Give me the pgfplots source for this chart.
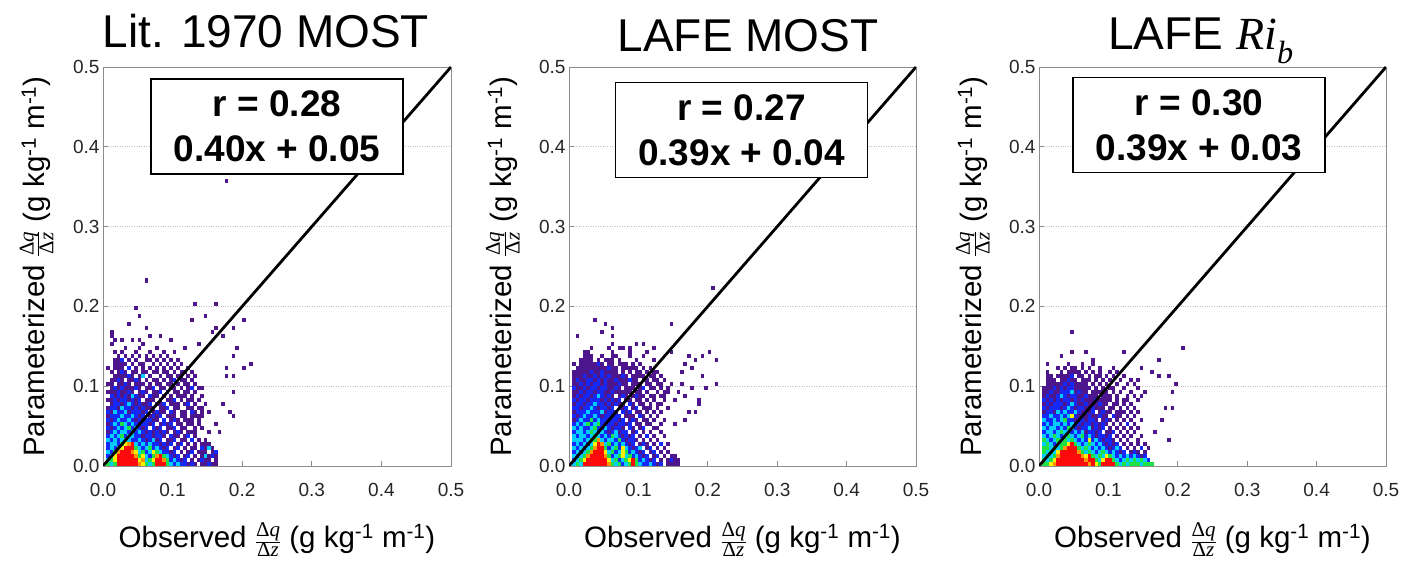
\documentclass[border=0pt]{standalone}
\usepackage{pgfplots}
\usepackage{pgfplotstable}
\pgfplotsset{compat=1.18}
\usepackage{fontspec}
\setmainfont{Liberation Sans}
\newfontfamily\serifit{Liberation Serif}
\newcommand\dqdz{$\frac{\mbox{\fontsize{21}{22}\selectfont\serifit Δ\textit{q}}}{\mbox{\fontsize{21}{22}\selectfont\serifit Δ\textit{z}}}$}
\definecolor{col0}{RGB}{78,22,140}
\definecolor{col1}{RGB}{20,40,250}
\definecolor{col2}{RGB}{0,205,255}
\definecolor{col3}{RGB}{30,225,70}
\definecolor{col4}{RGB}{250,240,0}
\definecolor{col5}{RGB}{255,150,0}
\definecolor{col6}{RGB}{250,10,10}
\pgfdeclareplotmark{cell}{\pgfpathrectangle{\pgfpoint{-1.8pt}{-2.05pt}}{\pgfpoint{3.6pt}{4.1pt}}\pgfusepath{fill}}
\tikzset{statbox/.style={draw=black, line width=1.4pt, fill=white, minimum width=252pt, minimum height=95pt, align=center, inner sep=0pt, font=\fontsize{37}{45}\selectfont\bfseries}}
\pgfplotsset{
  panel/.style={
    scale only axis, width=347pt, height=399pt, anchor=south west,
    xmin=-0.5, xmax=99.5, ymin=-0.5, ymax=99.5,
    clip marker paths=true,
    xtick={-0.5,19.5,39.5,59.5,79.5,99.5},
    ytick={-0.5,19.5,39.5,59.5,79.5,99.5},
    xticklabels={0.0,0.1,0.2,0.3,0.4,0.5},
    yticklabels={0.0,0.1,0.2,0.3,0.4,0.5},
    axis line style={black!45, line width=0.8pt},
    tick style={black!45, line width=0.8pt},
    tick align=inside, major tick length=5pt,
    xtick pos=bottom, ytick pos=left,
    ymajorgrids, grid style={dotted, black!25, line width=0.8pt},
    tick label style={font=\fontsize{19}{22}\selectfont, text=black!85},
    xticklabel style={anchor=base, yshift=-31pt},
    xlabel style={at={(axis description cs:0.5,-0.2055)}, anchor=base, font=\fontsize{29.5}{34}\selectfont},
    ylabel style={at={(axis description cs:-0.167,0.5)}, anchor=base, font=\fontsize{29.5}{34}\selectfont},
    xlabel={Observed \dqdz{} (g kg\textsuperscript{-1} m\textsuperscript{-1})},
    ylabel={Parameterized \dqdz{} (g kg\textsuperscript{-1} m\textsuperscript{-1})},
  },
  diag/.style={black, line width=2.8pt},
}
% 2-D histogram cells: x bin, y bin (bin width 0.005), colour class
% colour class: 0 purple, 1 blue, 2 cyan, 3 green, 4 yellow, 5 orange, 6 red
\pgfplotstableread[row sep=\\]{x y c\\
1 0 3\\ 2 0 2\\ 3 0 3\\ 4 0 6\\ 5 0 6\\ 6 0 6\\ 7 0 6\\ 8 0 6\\ 9 0 6\\ 10 0 5\\ 11 0 4\\ 12 0 3\\ 13 0 2\\ 14 0 3\\ 15 0 6\\ 16 0 6\\ 17 0 6\\ 18 0 3\\ 19 0 2\\ 20 0 1\\ 21 0 2\\ 22 0 1\\ 23 0 1\\ 24 0 0\\ 25 0 1\\ 26 0 0\\ 28 0 0\\ 29 0 0\\ 30 0 1\\ 31 0 0\\ 32 0 0\\
1 1 2\\ 2 1 3\\ 3 1 4\\ 4 1 6\\ 5 1 6\\ 6 1 6\\ 7 1 6\\ 8 1 6\\ 9 1 6\\ 10 1 4\\ 11 1 5\\ 12 1 2\\ 13 1 3\\ 14 1 4\\ 15 1 6\\ 16 1 6\\ 17 1 5\\ 18 1 3\\ 19 1 1\\ 20 1 2\\ 21 1 1\\ 22 1 0\\ 23 1 1\\ 25 1 0\\ 27 1 0\\ 28 1 1\\ 29 1 0\\ 30 1 0\\ 32 1 0\\
1 2 1\\ 2 2 2\\ 3 2 4\\ 4 2 6\\ 5 2 6\\ 6 2 6\\ 7 2 6\\ 8 2 6\\ 9 2 5\\ 10 2 3\\ 11 2 4\\ 12 2 2\\ 13 2 1\\ 14 2 3\\ 15 2 5\\ 16 2 6\\ 17 2 3\\ 18 2 2\\ 19 2 1\\ 20 2 0\\ 21 2 1\\ 23 2 0\\ 24 2 1\\ 26 2 0\\ 28 2 0\\ 29 2 2\\ 30 2 0\\ 31 2 1\\ 32 2 0\\
1 3 2\\ 2 3 1\\ 3 3 3\\ 4 3 5\\ 5 3 6\\ 6 3 6\\ 7 3 6\\ 8 3 5\\ 9 3 4\\ 10 3 2\\ 11 3 3\\ 12 3 1\\ 13 3 2\\ 14 3 4\\ 15 3 3\\ 16 3 2\\ 17 3 1\\ 18 3 1\\ 19 3 0\\ 20 3 1\\ 22 3 0\\ 24 3 0\\ 25 3 1\\ 27 3 0\\ 28 3 0\\ 29 3 0\\ 31 3 0\\ 32 3 1\\
1 4 1\\ 2 4 2\\ 3 4 1\\ 4 4 3\\ 5 4 4\\ 6 4 6\\ 7 4 6\\ 8 4 6\\ 9 4 3\\ 10 4 2\\ 11 4 1\\ 12 4 2\\ 13 4 3\\ 14 4 1\\ 15 4 2\\ 16 4 1\\ 17 4 0\\ 18 4 1\\ 20 4 0\\ 21 4 1\\ 23 4 0\\ 25 4 0\\ 26 4 0\\ 28 4 1\\ 29 4 0\\ 30 4 2\\ 31 4 0\\
1 5 1\\ 2 5 2\\ 3 5 2\\ 4 5 1\\ 5 5 3\\ 6 5 4\\ 7 5 5\\ 8 5 6\\ 9 5 2\\ 10 5 1\\ 11 5 2\\ 12 5 1\\ 13 5 2\\ 14 5 1\\ 15 5 1\\ 16 5 0\\ 17 5 1\\ 18 5 0\\ 19 5 1\\ 21 5 0\\ 22 5 1\\ 24 5 0\\ 26 5 0\\ 28 5 0\\ 29 5 0\\ 30 5 0\\
1 6 2\\ 2 6 1\\ 3 6 2\\ 4 6 1\\ 5 6 2\\ 6 6 3\\ 7 6 2\\ 8 6 1\\ 9 6 1\\ 10 6 2\\ 11 6 1\\ 12 6 0\\ 13 6 1\\ 14 6 2\\ 15 6 0\\ 16 6 1\\ 18 6 0\\ 19 6 0\\ 20 6 1\\ 22 6 0\\ 23 6 0\\ 25 6 1\\ 27 6 0\\ 29 6 0\\
1 7 1\\ 2 7 2\\ 3 7 1\\ 4 7 2\\ 5 7 3\\ 6 7 1\\ 7 7 2\\ 8 7 2\\ 9 7 1\\ 10 7 1\\ 11 7 0\\ 12 7 1\\ 13 7 1\\ 14 7 0\\ 15 7 1\\ 16 7 1\\ 17 7 0\\ 19 7 1\\ 20 7 0\\ 21 7 0\\ 23 7 0\\ 24 7 1\\ 26 7 0\\
1 8 0\\ 2 8 1\\ 3 8 2\\ 4 8 1\\ 5 8 2\\ 6 8 2\\ 7 8 1\\ 8 8 3\\ 9 8 1\\ 10 8 2\\ 11 8 1\\ 12 8 0\\ 13 8 1\\ 14 8 0\\ 15 8 1\\ 16 8 0\\ 17 8 1\\ 18 8 0\\ 20 8 0\\ 21 8 1\\ 22 8 0\\ 24 8 0\\ 25 8 0\\ 26 8 0\\ 30 8 0\\
1 9 1\\ 2 9 0\\ 3 9 1\\ 4 9 2\\ 5 9 1\\ 6 9 2\\ 7 9 3\\ 8 9 1\\ 9 9 2\\ 10 9 1\\ 11 9 0\\ 12 9 1\\ 14 9 1\\ 15 9 0\\ 16 9 1\\ 18 9 0\\ 19 9 0\\ 20 9 1\\ 22 9 0\\ 23 9 0\\ 26 9 0\\ 28 9 0\\
1 10 0\\ 2 10 1\\ 3 10 2\\ 4 10 1\\ 5 10 3\\ 6 10 2\\ 7 10 1\\ 8 10 2\\ 9 10 1\\ 10 10 0\\ 11 10 1\\ 12 10 1\\ 13 10 0\\ 14 10 1\\ 16 10 0\\ 17 10 1\\ 18 10 0\\ 19 10 1\\ 21 10 0\\ 22 10 0\\ 24 10 0\\ 25 10 0\\ 27 10 0\\
1 11 1\\ 2 11 0\\ 3 11 1\\ 4 11 2\\ 5 11 1\\ 6 11 1\\ 7 11 2\\ 8 11 1\\ 9 11 0\\ 10 11 1\\ 11 11 0\\ 12 11 1\\ 13 11 1\\ 14 11 0\\ 15 11 0\\ 17 11 1\\ 19 11 0\\ 20 11 1\\ 21 11 0\\ 23 11 0\\ 24 11 0\\ 25 11 0\\ 27 11 0\\
1 12 0\\ 2 12 1\\ 3 12 1\\ 4 12 1\\ 5 12 2\\ 6 12 1\\ 7 12 1\\ 8 12 2\\ 9 12 1\\ 10 12 0\\ 11 12 1\\ 13 12 0\\ 14 12 1\\ 15 12 0\\ 16 12 1\\ 18 12 0\\ 19 12 0\\ 20 12 0\\ 22 12 0\\ 23 12 0\\ 25 12 0\\ 26 12 0\\ 27 12 0\\ 28 12 0\\
1 13 1\\ 2 13 0\\ 3 13 2\\ 4 13 1\\ 5 13 1\\ 6 13 2\\ 7 13 0\\ 8 13 1\\ 9 13 1\\ 10 13 1\\ 11 13 0\\ 12 13 1\\ 14 13 0\\ 15 13 1\\ 16 13 0\\ 17 13 0\\ 19 13 1\\ 20 13 0\\ 22 13 0\\ 23 13 0\\ 25 13 1\\ 26 13 0\\ 28 13 0\\ 30 13 0\\
1 14 0\\ 2 14 1\\ 3 14 1\\ 4 14 0\\ 5 14 2\\ 6 14 1\\ 7 14 1\\ 8 14 0\\ 9 14 1\\ 10 14 0\\ 11 14 1\\ 12 14 0\\ 13 14 0\\ 14 14 1\\ 16 14 0\\ 17 14 0\\ 18 14 1\\ 20 14 0\\ 21 14 0\\ 24 14 0\\ 25 14 0\\ 27 14 0\\ 28 14 0\\
2 15 0\\ 3 15 1\\ 4 15 1\\ 5 15 0\\ 6 15 1\\ 7 15 2\\ 8 15 1\\ 9 15 0\\ 10 15 1\\ 11 15 0\\ 12 15 0\\ 13 15 1\\ 15 15 0\\ 16 15 0\\ 17 15 1\\ 19 15 0\\ 20 15 0\\ 21 15 0\\ 23 15 0\\ 24 15 1\\ 26 15 0\\ 29 15 0\\
1 16 0\\ 2 16 0\\ 3 16 1\\ 4 16 0\\ 5 16 1\\ 6 16 1\\ 7 16 0\\ 8 16 1\\ 9 16 0\\ 10 16 1\\ 12 16 0\\ 13 16 0\\ 14 16 0\\ 16 16 0\\ 18 16 0\\ 19 16 0\\ 20 16 1\\ 22 16 0\\ 24 16 0\\ 25 16 0\\ 27 16 0\\
2 17 1\\ 3 17 0\\ 4 17 1\\ 5 17 0\\ 6 17 1\\ 7 17 0\\ 8 17 2\\ 9 17 1\\ 10 17 0\\ 11 17 0\\ 13 17 1\\ 14 17 0\\ 15 17 0\\ 17 17 0\\ 19 17 0\\ 21 17 0\\ 22 17 0\\ 23 17 0\\ 25 17 0\\ 28 17 0\\
1 18 0\\ 2 18 0\\ 3 18 0\\ 4 18 1\\ 5 18 0\\ 6 18 0\\ 7 18 1\\ 8 18 0\\ 10 18 0\\ 11 18 1\\ 12 18 0\\ 14 18 0\\ 15 18 0\\ 16 18 1\\ 18 18 0\\ 20 18 0\\ 21 18 0\\ 23 18 0\\ 24 18 0\\ 26 18 0\\
2 19 0\\ 3 19 1\\ 4 19 0\\ 5 19 1\\ 6 19 0\\ 7 19 0\\ 8 19 0\\ 9 19 1\\ 10 19 0\\ 12 19 0\\ 13 19 0\\ 14 19 1\\ 16 19 0\\ 17 19 0\\ 19 19 0\\ 20 19 0\\ 22 19 0\\ 24 19 0\\ 25 19 1\\ 27 19 0\\ 28 19 0\\
1 20 0\\ 2 20 0\\ 4 20 0\\ 5 20 0\\ 6 20 1\\ 7 20 0\\ 9 20 0\\ 10 20 0\\ 11 20 0\\ 13 20 0\\ 15 20 0\\ 16 20 0\\ 18 20 0\\ 19 20 0\\ 21 20 0\\ 23 20 0\\ 24 20 0\\ 26 20 0\\
2 21 0\\ 3 21 0\\ 4 21 1\\ 5 21 0\\ 7 21 0\\ 8 21 0\\ 9 21 1\\ 10 21 0\\ 12 21 0\\ 14 21 0\\ 15 21 0\\ 17 21 0\\ 19 21 0\\ 20 21 1\\ 22 21 0\\ 23 21 0\\ 25 21 0\\
3 22 0\\ 4 22 0\\ 5 22 0\\ 6 22 0\\ 7 22 1\\ 8 22 0\\ 10 22 0\\ 11 22 2\\ 13 22 0\\ 16 22 0\\ 18 22 0\\ 19 22 0\\ 21 22 0\\ 22 22 0\\ 24 22 0\\ 26 22 0\\
2 23 0\\ 4 23 0\\ 5 23 1\\ 6 23 0\\ 8 23 0\\ 9 23 0\\ 11 23 0\\ 12 23 0\\ 14 23 0\\ 15 23 0\\ 17 23 0\\ 18 23 0\\ 20 23 0\\ 22 23 0\\ 23 23 0\\ 25 23 0\\
1 24 0\\ 3 24 0\\ 4 24 0\\ 5 24 0\\ 7 24 1\\ 9 24 0\\ 11 24 0\\ 13 24 0\\ 15 24 0\\ 17 24 0\\ 19 24 0\\ 21 24 0\\ 24 24 0\\
3 25 0\\ 4 25 0\\ 5 25 0\\ 6 25 0\\ 8 25 0\\ 10 25 0\\ 11 25 0\\ 14 25 0\\ 16 25 0\\ 18 25 0\\ 20 25 0\\ 22 25 0\\
3 26 0\\ 4 26 0\\ 5 26 1\\ 7 26 0\\ 9 26 0\\ 12 26 0\\ 13 26 0\\ 15 26 0\\ 17 26 0\\ 19 26 0\\ 21 26 0\\
4 27 0\\ 6 27 0\\ 8 27 0\\ 10 27 0\\ 12 27 0\\ 14 27 0\\ 16 27 0\\ 18 27 0\\
3 28 0\\ 5 28 0\\ 9 28 0\\ 13 28 0\\ 17 28 0\\ 20 28 0\\
6 29 0\\ 10 29 0\\ 15 29 0\\ 23 29 0\\
2 30 0\\ 11 30 0\\ 27 30 0\\
12 46 0\\ 9 39 0\\ 10 37 0\\ 26 40 0\\ 32 40 0\\ 25 36 0\\ 29 37 0\\ 7 35 0\\ 12 34 0\\ 40 36 0\\ 32 34 0\\ 31 33 0\\ 37 34 0\\ 34 32 0\\ 2 33 0\\ 2 32 0\\ 3 31 0\\ 5 31 0\\ 8 31 0\\ 10 31 0\\ 13 32 0\\ 16 32 0\\ 19 31 0\\ 38 29 0\\ 37 27 0\\ 42 25 0\\ 35 24 0\\ 40 24 0\\ 37 22 0\\ 35 22 0\\ 37 18 0\\ 34 15 0\\ 36 13 0\\ 37 12 0\\ 32 10 0\\ 33 8 0\\ 1 24 0\\ 35 71 0\\
}\tabA
\pgfplotstableread[row sep=\\]{x y c\\
1 0 2\\ 2 0 3\\ 3 0 2\\ 4 0 6\\ 5 0 6\\ 6 0 6\\ 7 0 6\\ 8 0 6\\ 9 0 6\\ 10 0 6\\ 11 0 5\\ 12 0 3\\ 13 0 2\\ 14 0 3\\ 15 0 1\\ 16 0 2\\ 17 0 3\\ 18 0 6\\ 19 0 3\\ 20 0 2\\ 21 0 1\\ 22 0 1\\ 23 0 2\\ 24 0 1\\ 25 0 0\\ 26 0 1\\ 28 0 0\\ 29 0 0\\ 30 0 0\\ 31 0 0\\
1 1 1\\ 2 1 2\\ 3 1 3\\ 4 1 4\\ 5 1 6\\ 6 1 6\\ 7 1 6\\ 8 1 6\\ 9 1 6\\ 10 1 6\\ 11 1 4\\ 12 1 2\\ 13 1 3\\ 14 1 1\\ 15 1 2\\ 16 1 3\\ 17 1 4\\ 18 1 6\\ 19 1 3\\ 20 1 1\\ 21 1 2\\ 22 1 1\\ 23 1 0\\ 24 1 1\\ 26 1 0\\ 28 1 0\\ 29 1 1\\ 30 1 0\\ 31 1 0\\
1 2 2\\ 2 2 1\\ 3 2 2\\ 4 2 3\\ 5 2 5\\ 6 2 6\\ 7 2 6\\ 8 2 6\\ 9 2 6\\ 10 2 5\\ 11 2 3\\ 12 2 1\\ 13 2 2\\ 14 2 3\\ 15 2 4\\ 16 2 2\\ 17 2 3\\ 18 2 1\\ 19 2 2\\ 20 2 1\\ 21 2 0\\ 22 2 1\\ 24 2 0\\ 25 2 1\\ 27 2 0\\ 29 2 0\\ 30 2 0\\
1 3 1\\ 2 3 2\\ 3 3 1\\ 4 3 2\\ 5 3 3\\ 6 3 5\\ 7 3 6\\ 8 3 6\\ 9 3 6\\ 10 3 4\\ 11 3 2\\ 12 3 3\\ 13 3 1\\ 14 3 2\\ 15 3 4\\ 16 3 3\\ 17 3 1\\ 18 3 2\\ 19 3 1\\ 20 3 0\\ 21 3 1\\ 23 3 0\\ 24 3 1\\ 26 3 0\\ 28 3 0\\
1 4 2\\ 2 4 1\\ 3 4 2\\ 4 4 1\\ 5 4 2\\ 6 4 3\\ 7 4 5\\ 8 4 6\\ 9 4 6\\ 10 4 3\\ 11 4 1\\ 12 4 2\\ 13 4 3\\ 14 4 1\\ 15 4 4\\ 16 4 2\\ 17 4 1\\ 18 4 0\\ 19 4 1\\ 20 4 2\\ 22 4 0\\ 23 4 1\\ 25 4 0\\ 27 4 0\\
1 5 1\\ 2 5 2\\ 3 5 1\\ 4 5 2\\ 5 5 1\\ 6 5 2\\ 7 5 4\\ 8 5 6\\ 9 5 5\\ 10 5 2\\ 11 5 3\\ 12 5 1\\ 13 5 2\\ 14 5 1\\ 15 5 2\\ 16 5 1\\ 17 5 0\\ 18 5 1\\ 20 5 0\\ 21 5 1\\ 22 5 0\\ 24 5 0\\ 26 5 1\\ 28 5 0\\
1 6 2\\ 2 6 2\\ 3 6 2\\ 4 6 1\\ 5 6 2\\ 6 6 3\\ 7 6 3\\ 8 6 5\\ 9 6 2\\ 10 6 1\\ 11 6 2\\ 12 6 2\\ 13 6 1\\ 14 6 3\\ 15 6 1\\ 16 6 0\\ 17 6 1\\ 18 6 1\\ 19 6 0\\ 21 6 0\\ 23 6 0\\ 25 6 0\\
1 7 2\\ 2 7 1\\ 3 7 2\\ 4 7 2\\ 5 7 1\\ 6 7 2\\ 7 7 3\\ 8 7 2\\ 9 7 1\\ 10 7 2\\ 11 7 1\\ 12 7 3\\ 13 7 2\\ 14 7 1\\ 15 7 0\\ 16 7 1\\ 17 7 0\\ 18 7 1\\ 20 7 0\\ 22 7 1\\ 24 7 0\\ 27 7 0\\
1 8 1\\ 2 8 2\\ 3 8 2\\ 4 8 1\\ 5 8 2\\ 6 8 3\\ 7 8 2\\ 8 8 1\\ 9 8 2\\ 10 8 1\\ 11 8 0\\ 12 8 1\\ 13 8 2\\ 14 8 0\\ 15 8 1\\ 16 8 1\\ 18 8 0\\ 19 8 1\\ 21 8 0\\ 23 8 0\\ 26 8 0\\
1 9 2\\ 2 9 1\\ 3 9 2\\ 4 9 1\\ 5 9 1\\ 6 9 2\\ 7 9 3\\ 8 9 1\\ 9 9 1\\ 10 9 2\\ 11 9 1\\ 12 9 0\\ 13 9 1\\ 14 9 1\\ 15 9 0\\ 17 9 1\\ 18 9 0\\ 20 9 0\\ 21 9 1\\ 24 9 0\\ 25 9 0\\
1 10 1\\ 2 10 2\\ 3 10 1\\ 4 10 2\\ 5 10 3\\ 6 10 1\\ 7 10 2\\ 8 10 3\\ 9 10 1\\ 10 10 0\\ 11 10 1\\ 12 10 1\\ 13 10 0\\ 14 10 1\\ 15 10 1\\ 16 10 0\\ 17 10 1\\ 19 10 0\\ 20 10 0\\ 22 10 0\\ 23 10 0\\ 26 10 0\\
1 11 0\\ 2 11 1\\ 3 11 2\\ 4 11 1\\ 5 11 1\\ 6 11 3\\ 7 11 1\\ 8 11 2\\ 9 11 1\\ 10 11 1\\ 11 11 0\\ 12 11 1\\ 13 11 1\\ 14 11 0\\ 15 11 1\\ 17 11 0\\ 18 11 1\\ 19 11 0\\ 21 11 0\\ 22 11 0\\ 24 11 0\\ 27 11 0\\
1 12 1\\ 2 12 0\\ 3 12 1\\ 4 12 2\\ 5 12 1\\ 6 12 1\\ 7 12 2\\ 8 12 1\\ 9 12 0\\ 10 12 1\\ 11 12 1\\ 12 12 0\\ 13 12 1\\ 14 12 1\\ 16 12 0\\ 17 12 0\\ 18 12 0\\ 20 12 1\\ 21 12 0\\ 23 12 0\\ 25 12 0\\
1 13 0\\ 2 13 1\\ 3 13 1\\ 4 13 1\\ 5 13 2\\ 6 13 1\\ 7 13 1\\ 8 13 1\\ 9 13 2\\ 10 13 0\\ 11 13 1\\ 12 13 1\\ 13 13 0\\ 15 13 1\\ 16 13 0\\ 17 13 1\\ 19 13 0\\ 20 13 0\\ 22 13 0\\ 24 13 0\\ 26 13 0\\
1 14 1\\ 2 14 1\\ 3 14 0\\ 4 14 1\\ 5 14 1\\ 6 14 2\\ 7 14 1\\ 8 14 0\\ 9 14 1\\ 10 14 1\\ 11 14 0\\ 12 14 1\\ 14 14 0\\ 15 14 0\\ 16 14 1\\ 18 14 0\\ 19 14 1\\ 21 14 0\\ 22 14 0\\ 23 14 0\\ 25 14 0\\ 28 14 0\\
1 15 0\\ 2 15 1\\ 3 15 1\\ 4 15 0\\ 5 15 1\\ 6 15 1\\ 7 15 2\\ 8 15 1\\ 9 15 1\\ 10 15 0\\ 11 15 1\\ 12 15 0\\ 13 15 1\\ 14 15 0\\ 15 15 0\\ 17 15 1\\ 18 15 0\\ 20 15 0\\ 21 15 0\\ 23 15 0\\ 25 15 0\\ 26 15 0\\
1 16 1\\ 2 16 0\\ 3 16 1\\ 4 16 1\\ 5 16 0\\ 6 16 1\\ 7 16 1\\ 8 16 1\\ 9 16 0\\ 10 16 1\\ 11 16 0\\ 12 16 1\\ 13 16 0\\ 14 16 1\\ 16 16 0\\ 17 16 0\\ 19 16 0\\ 20 16 0\\ 22 16 0\\ 24 16 0\\ 27 16 0\\
1 17 0\\ 2 17 1\\ 3 17 0\\ 4 17 1\\ 5 17 1\\ 6 17 0\\ 7 17 1\\ 8 17 2\\ 9 17 1\\ 10 17 0\\ 11 17 1\\ 12 17 0\\ 14 17 0\\ 15 17 1\\ 16 17 0\\ 18 17 0\\ 19 17 1\\ 20 17 0\\ 21 17 0\\ 23 17 0\\ 24 17 0\\ 26 17 0\\ 27 17 0\\
1 18 0\\ 2 18 0\\ 3 18 1\\ 4 18 0\\ 5 18 1\\ 6 18 1\\ 7 18 0\\ 8 18 1\\ 9 18 1\\ 10 18 0\\ 11 18 0\\ 12 18 1\\ 13 18 0\\ 14 18 0\\ 15 18 0\\ 16 18 0\\ 17 18 0\\ 19 18 0\\ 20 18 0\\ 22 18 0\\ 25 18 0\\ 27 18 0\\ 28 18 0\\
1 19 1\\ 2 19 0\\ 3 19 0\\ 4 19 1\\ 5 19 0\\ 6 19 1\\ 7 19 1\\ 8 19 0\\ 9 19 1\\ 10 19 1\\ 11 19 0\\ 12 19 0\\ 13 19 1\\ 14 19 0\\ 16 19 0\\ 17 19 0\\ 18 19 0\\ 20 19 0\\ 21 19 1\\ 23 19 0\\ 24 19 0\\ 26 19 0\\ 28 19 0\\
1 20 0\\ 2 20 0\\ 3 20 1\\ 4 20 0\\ 5 20 1\\ 6 20 0\\ 7 20 1\\ 8 20 1\\ 9 20 0\\ 10 20 1\\ 11 20 0\\ 12 20 0\\ 13 20 0\\ 14 20 1\\ 15 20 0\\ 16 20 0\\ 18 20 0\\ 19 20 0\\ 20 20 0\\ 22 20 0\\ 23 20 0\\ 25 20 0\\ 26 20 0\\
1 21 0\\ 2 21 1\\ 3 21 0\\ 4 21 0\\ 5 21 1\\ 6 21 1\\ 7 21 0\\ 8 21 1\\ 9 21 0\\ 10 21 1\\ 11 21 0\\ 12 21 0\\ 13 21 1\\ 14 21 0\\ 15 21 0\\ 16 21 0\\ 17 21 1\\ 18 21 0\\ 19 21 0\\ 21 21 0\\ 22 21 0\\ 24 21 0\\ 25 21 0\\ 27 21 0\\
1 22 0\\ 2 22 0\\ 3 22 0\\ 4 22 1\\ 5 22 0\\ 6 22 0\\ 7 22 1\\ 8 22 0\\ 9 22 1\\ 10 22 0\\ 11 22 1\\ 12 22 0\\ 13 22 0\\ 14 22 0\\ 15 22 1\\ 16 22 0\\ 18 22 0\\ 19 22 0\\ 20 22 0\\ 21 22 0\\ 23 22 0\\ 24 22 0\\ 26 22 0\\
1 23 0\\ 2 23 0\\ 3 23 0\\ 4 23 0\\ 5 23 0\\ 6 23 1\\ 7 23 0\\ 8 23 0\\ 9 23 1\\ 10 23 0\\ 11 23 0\\ 12 23 0\\ 13 23 0\\ 15 23 0\\ 17 23 0\\ 19 23 0\\ 20 23 0\\ 22 23 0\\ 24 23 0\\ 25 23 0\\
2 24 0\\ 3 24 0\\ 4 24 0\\ 5 24 0\\ 6 24 0\\ 7 24 0\\ 8 24 0\\ 9 24 0\\ 10 24 0\\ 11 24 1\\ 12 24 0\\ 13 24 0\\ 15 24 0\\ 16 24 0\\ 17 24 0\\ 18 24 0\\ 19 24 0\\ 21 24 0\\ 23 24 0\\
1 25 0\\ 3 25 0\\ 4 25 0\\ 5 25 0\\ 6 25 0\\ 7 25 0\\ 8 25 1\\ 9 25 0\\ 11 25 0\\ 12 25 0\\ 14 25 0\\ 15 25 0\\ 16 25 0\\ 18 25 0\\ 20 25 0\\
3 26 0\\ 4 26 0\\ 5 26 0\\ 6 26 0\\ 8 26 0\\ 10 26 0\\ 11 26 0\\ 12 26 0\\ 14 26 0\\ 19 26 0\\ 24 26 0\\
4 27 0\\ 5 27 0\\ 6 27 0\\ 9 27 0\\ 12 27 0\\ 13 27 0\\ 17 27 0\\ 21 27 0\\
4 28 0\\ 5 28 0\\ 12 28 0\\ 17 28 0\\ 22 28 0\\
6 29 0\\ 11 29 0\\ 15 29 0\\
41 44 0\\ 7 36 0\\ 10 35 0\\ 9 33 0\\ 12 34 0\\ 12 32 0\\ 2 32 0\\ 29 35 0\\ 12 30 0\\ 14 29 0\\ 17 29 0\\ 19 30 0\\ 21 30 0\\ 24 29 0\\ 29 28 0\\ 40 28 0\\ 42 26 0\\ 38 27 0\\ 34 27 0\\ 36 26 0\\ 33 25 0\\ 35 24 0\\ 38 22 0\\ 32 23 0\\ 29 20 0\\ 32 20 0\\ 35 19 0\\ 39 19 0\\ 37 16 0\\ 37 15 0\\ 34 13 0\\ 36 13 0\\ 33 11 0\\ 30 10 0\\ 31 18 0\\ 30 16 0\\ 33 17 0\\ 42 20 0\\
}\tabB
\pgfplotstableread[row sep=\\]{x y c\\
1 0 3\\ 2 0 3\\ 3 0 4\\ 4 0 5\\ 5 0 6\\ 6 0 6\\ 7 0 6\\ 8 0 6\\ 9 0 6\\ 10 0 6\\ 11 0 6\\ 12 0 6\\ 13 0 6\\ 14 0 5\\ 15 0 6\\ 16 0 4\\ 17 0 3\\ 18 0 6\\ 19 0 6\\ 20 0 6\\ 21 0 6\\ 22 0 3\\ 23 0 2\\ 24 0 3\\ 25 0 2\\ 26 0 3\\ 27 0 3\\ 28 0 3\\ 29 0 2\\ 30 0 3\\ 31 0 3\\ 32 0 3\\
1 1 3\\ 2 1 2\\ 3 1 3\\ 4 1 4\\ 5 1 6\\ 6 1 6\\ 7 1 6\\ 8 1 6\\ 9 1 6\\ 10 1 6\\ 11 1 6\\ 12 1 6\\ 13 1 5\\ 14 1 6\\ 15 1 6\\ 16 1 3\\ 17 1 2\\ 18 1 4\\ 19 1 6\\ 20 1 6\\ 21 1 3\\ 22 1 2\\ 23 1 1\\ 24 1 2\\ 25 1 3\\ 26 1 2\\ 27 1 3\\ 28 1 2\\ 29 1 3\\ 30 1 2\\ 31 1 1\\
1 2 2\\ 2 2 3\\ 3 2 2\\ 4 2 3\\ 5 2 5\\ 6 2 6\\ 7 2 6\\ 8 2 6\\ 9 2 6\\ 10 2 6\\ 11 2 6\\ 12 2 5\\ 13 2 4\\ 14 2 6\\ 15 2 3\\ 16 2 2\\ 17 2 3\\ 18 2 2\\ 19 2 4\\ 20 2 3\\ 21 2 2\\ 22 2 1\\ 23 2 2\\ 24 2 1\\ 25 2 2\\ 26 2 1\\ 27 2 2\\ 28 2 1\\ 29 2 0\\ 30 2 1\\
1 3 3\\ 2 3 2\\ 3 3 3\\ 4 3 2\\ 5 3 4\\ 6 3 6\\ 7 3 6\\ 8 3 6\\ 9 3 6\\ 10 3 6\\ 11 3 5\\ 12 3 3\\ 13 3 2\\ 14 3 3\\ 15 3 2\\ 16 3 1\\ 17 3 2\\ 18 3 3\\ 19 3 2\\ 20 3 1\\ 21 3 2\\ 22 3 1\\ 23 3 0\\ 24 3 1\\ 26 3 0\\ 27 3 1\\ 28 3 0\\ 30 3 0\\
1 4 3\\ 2 4 3\\ 3 4 2\\ 4 4 3\\ 5 4 2\\ 6 4 3\\ 7 4 5\\ 8 4 6\\ 9 4 6\\ 10 4 6\\ 11 4 3\\ 12 4 2\\ 13 4 3\\ 14 4 2\\ 15 4 1\\ 16 4 2\\ 17 4 1\\ 18 4 2\\ 19 4 1\\ 20 4 0\\ 21 4 1\\ 22 4 2\\ 23 4 1\\ 25 4 0\\ 27 4 0\\ 29 4 1\\ 31 4 0\\
1 5 2\\ 2 5 3\\ 3 5 2\\ 4 5 1\\ 5 5 2\\ 6 5 3\\ 7 5 3\\ 8 5 4\\ 9 5 6\\ 10 5 3\\ 11 5 2\\ 12 5 1\\ 13 5 2\\ 14 5 3\\ 15 5 2\\ 16 5 1\\ 17 5 2\\ 18 5 1\\ 19 5 0\\ 20 5 1\\ 21 5 0\\ 22 5 1\\ 24 5 0\\ 26 5 0\\ 28 5 0\\ 30 5 0\\
1 6 3\\ 2 6 2\\ 3 6 1\\ 4 6 2\\ 5 6 3\\ 6 6 2\\ 7 6 3\\ 8 6 2\\ 9 6 3\\ 10 6 2\\ 11 6 1\\ 12 6 2\\ 13 6 1\\ 14 6 4\\ 15 6 1\\ 16 6 2\\ 17 6 1\\ 18 6 0\\ 19 6 1\\ 20 6 1\\ 21 6 0\\ 23 6 0\\ 25 6 0\\ 28 6 0\\ 37 6 0\\
1 7 2\\ 2 7 1\\ 3 7 2\\ 4 7 3\\ 5 7 2\\ 6 7 1\\ 7 7 2\\ 8 7 3\\ 9 7 2\\ 10 7 1\\ 11 7 2\\ 12 7 3\\ 13 7 1\\ 14 7 2\\ 15 7 1\\ 16 7 0\\ 17 7 1\\ 18 7 1\\ 19 7 0\\ 20 7 1\\ 22 7 0\\ 24 7 0\\ 26 7 0\\ 29 7 0\\
1 8 1\\ 2 8 2\\ 3 8 2\\ 4 8 1\\ 5 8 2\\ 6 8 3\\ 7 8 2\\ 8 8 2\\ 9 8 1\\ 10 8 2\\ 11 8 1\\ 12 8 2\\ 13 8 0\\ 14 8 1\\ 15 8 1\\ 16 8 0\\ 17 8 1\\ 19 8 0\\ 20 8 0\\ 21 8 1\\ 23 8 0\\ 25 8 0\\ 27 8 0\\ 33 8 0\\
1 9 2\\ 2 9 1\\ 3 9 2\\ 4 9 2\\ 5 9 1\\ 6 9 2\\ 7 9 1\\ 8 9 3\\ 9 9 2\\ 10 9 1\\ 11 9 0\\ 12 9 1\\ 13 9 1\\ 14 9 2\\ 15 9 0\\ 16 9 1\\ 17 9 0\\ 18 9 1\\ 20 9 0\\ 22 9 0\\ 24 9 0\\ 26 9 0\\ 28 9 0\\
1 10 1\\ 2 10 2\\ 3 10 1\\ 4 10 2\\ 5 10 2\\ 6 10 1\\ 7 10 2\\ 8 10 1\\ 9 10 2\\ 10 10 1\\ 11 10 1\\ 12 10 0\\ 13 10 1\\ 14 10 1\\ 15 10 0\\ 16 10 1\\ 17 10 0\\ 18 10 1\\ 19 10 0\\ 21 10 0\\ 23 10 0\\ 25 10 1\\ 27 10 0\\
1 11 2\\ 2 11 1\\ 3 11 1\\ 4 11 2\\ 5 11 1\\ 6 11 2\\ 7 11 3\\ 8 11 1\\ 9 11 1\\ 10 11 0\\ 11 11 1\\ 12 11 1\\ 13 11 0\\ 14 11 1\\ 15 11 1\\ 16 11 0\\ 18 11 0\\ 19 11 1\\ 20 11 0\\ 22 11 0\\ 24 11 0\\ 26 11 0\\ 29 11 0\\ 35 11 0\\
1 12 1\\ 2 12 1\\ 3 12 2\\ 4 12 1\\ 5 12 1\\ 6 12 2\\ 7 12 1\\ 8 12 2\\ 9 12 4\\ 10 12 1\\ 11 12 0\\ 12 12 1\\ 13 12 0\\ 14 12 1\\ 15 12 0\\ 16 12 0\\ 17 12 1\\ 18 12 0\\ 19 12 0\\ 21 12 1\\ 22 12 0\\ 23 12 0\\ 25 12 0\\ 27 12 0\\
1 13 0\\ 2 13 1\\ 3 13 1\\ 4 13 0\\ 5 13 2\\ 6 13 1\\ 7 13 2\\ 8 13 1\\ 9 13 1\\ 10 13 2\\ 11 13 1\\ 12 13 0\\ 13 13 1\\ 14 13 0\\ 15 13 1\\ 17 13 0\\ 18 13 1\\ 19 13 0\\ 20 13 0\\ 22 13 0\\ 23 13 0\\ 24 13 0\\ 26 13 0\\ 28 13 0\\
1 14 1\\ 2 14 0\\ 3 14 1\\ 4 14 1\\ 5 14 1\\ 6 14 0\\ 7 14 1\\ 8 14 2\\ 9 14 1\\ 10 14 0\\ 11 14 1\\ 12 14 1\\ 13 14 0\\ 14 14 0\\ 15 14 1\\ 16 14 0\\ 17 14 0\\ 18 14 0\\ 20 14 0\\ 21 14 0\\ 23 14 0\\ 25 14 0\\ 27 14 0\\ 36 14 0\\ 38 14 0\\
1 15 0\\ 2 15 1\\ 3 15 0\\ 4 15 1\\ 5 15 1\\ 6 15 1\\ 7 15 0\\ 8 15 1\\ 9 15 2\\ 10 15 1\\ 11 15 0\\ 12 15 0\\ 13 15 1\\ 14 15 0\\ 15 15 0\\ 16 15 0\\ 17 15 1\\ 18 15 0\\ 19 15 0\\ 21 15 0\\ 22 15 0\\ 24 15 0\\ 26 15 0\\
1 16 1\\ 2 16 0\\ 3 16 1\\ 4 16 0\\ 5 16 1\\ 6 16 0\\ 7 16 1\\ 8 16 1\\ 9 16 0\\ 10 16 1\\ 11 16 0\\ 12 16 1\\ 13 16 0\\ 14 16 0\\ 15 16 0\\ 16 16 1\\ 17 16 0\\ 18 16 0\\ 19 16 0\\ 20 16 0\\ 22 16 0\\ 24 16 0\\ 25 16 0\\ 28 16 0\\
1 17 0\\ 2 17 1\\ 3 17 0\\ 4 17 0\\ 5 17 1\\ 6 17 2\\ 7 17 1\\ 8 17 0\\ 9 17 1\\ 10 17 1\\ 11 17 0\\ 12 17 0\\ 13 17 1\\ 14 17 0\\ 15 17 0\\ 16 17 0\\ 18 17 0\\ 19 17 0\\ 20 17 0\\ 22 17 0\\ 25 17 0\\ 27 17 0\\ 29 17 0\\
1 18 0\\ 2 18 0\\ 3 18 1\\ 4 18 0\\ 5 18 0\\ 6 18 1\\ 7 18 1\\ 8 18 1\\ 9 18 2\\ 10 18 0\\ 11 18 1\\ 12 18 0\\ 13 18 0\\ 15 18 0\\ 16 18 0\\ 17 18 0\\ 18 18 0\\ 19 18 0\\ 21 18 0\\ 23 18 0\\ 26 18 0\\ 30 18 0\\ 38 18 0\\
1 19 0\\ 2 19 0\\ 3 19 0\\ 4 19 1\\ 5 19 0\\ 6 19 1\\ 7 19 0\\ 8 19 1\\ 9 19 1\\ 10 19 0\\ 11 19 0\\ 12 19 0\\ 13 19 0\\ 14 19 0\\ 16 19 0\\ 18 19 0\\ 20 19 0\\ 21 19 0\\ 24 19 0\\ 28 19 0\\
2 20 0\\ 3 20 0\\ 4 20 0\\ 5 20 0\\ 6 20 0\\ 7 20 1\\ 8 20 0\\ 9 20 1\\ 10 20 0\\ 11 20 0\\ 12 20 0\\ 13 20 0\\ 15 20 0\\ 17 20 0\\ 19 20 0\\ 22 20 0\\ 25 20 0\\ 27 20 0\\ 39 20 0\\
2 21 0\\ 3 21 0\\ 4 21 0\\ 6 21 0\\ 7 21 0\\ 8 21 1\\ 9 21 0\\ 10 21 0\\ 12 21 0\\ 13 21 0\\ 14 21 0\\ 16 21 0\\ 18 21 0\\ 20 21 0\\ 23 21 0\\ 26 21 0\\ 28 21 0\\
2 22 0\\ 3 22 0\\ 5 22 0\\ 6 22 0\\ 7 22 0\\ 8 22 0\\ 9 22 1\\ 11 22 0\\ 12 22 0\\ 14 22 0\\ 16 22 0\\ 17 22 0\\ 19 22 0\\ 21 22 0\\ 24 22 0\\ 34 22 0\\ 37 22 0\\
2 23 0\\ 6 23 0\\ 8 23 0\\ 9 23 0\\ 10 23 0\\ 11 23 0\\ 13 23 0\\ 15 23 0\\ 17 23 0\\ 20 23 0\\ 22 23 0\\ 32 23 0\\
5 24 0\\ 7 24 0\\ 9 24 0\\ 10 24 0\\ 12 24 0\\ 14 24 0\\ 17 24 0\\ 21 24 0\\ 29 24 0\\
2 25 0\\ 8 25 0\\ 12 25 0\\ 15 25 0\\
15 26 0\\ 34 26 0\\
9 33 0\\ 6 27 0\\ 9 28 0\\ 13 28 0\\ 24 28 0\\ 41 29 0\\
}\tabC
\newcommand\cellplots[1]{%
  \addplot[only marks, mark=cell, col0, restrict expr to domain={\thisrow{c}}{-0.5:0.5}] table[x=x, y=y] {#1};
  \addplot[only marks, mark=cell, col1, restrict expr to domain={\thisrow{c}}{0.5:1.5}] table[x=x, y=y] {#1};
  \addplot[only marks, mark=cell, col2, restrict expr to domain={\thisrow{c}}{1.5:2.5}] table[x=x, y=y] {#1};
  \addplot[only marks, mark=cell, col3, restrict expr to domain={\thisrow{c}}{2.5:3.5}] table[x=x, y=y] {#1};
  \addplot[only marks, mark=cell, col4, restrict expr to domain={\thisrow{c}}{3.5:4.5}] table[x=x, y=y] {#1};
  \addplot[only marks, mark=cell, col5, restrict expr to domain={\thisrow{c}}{4.5:5.5}] table[x=x, y=y] {#1};
  \addplot[only marks, mark=cell, col6, restrict expr to domain={\thisrow{c}}{5.5:6.5}] table[x=x, y=y] {#1};
}
\begin{document}
\begin{tikzpicture}
\useasboundingbox (0,0) rectangle (1404pt,561pt);
% ---------------- Panel 1 ----------------
\begin{axis}[panel, at={(103pt,95pt)}, width=348pt,
  title={Lit. 1970 MOST},
  title style={at={(axis description cs:0.468,1.033)}, anchor=base, font=\fontsize{46}{55}\selectfont}]
\cellplots{\tabA}
\addplot[diag] coordinates {(-0.5,-0.5) (99.5,99.5)};
\node[statbox] at (rel axis cs:0.5,0.851) {r = 0.28\\0.40x + 0.05};
\end{axis}
% ---------------- Panel 2 ----------------
\begin{axis}[panel, at={(569pt,95pt)},
  title={LAFE MOST},
  title style={at={(axis description cs:0.516,1.025)}, anchor=base, font=\fontsize{46}{55}\selectfont}]
\cellplots{\tabB}
\addplot[diag] coordinates {(-0.5,-0.5) (99.5,99.5)};
\node[statbox] at (rel axis cs:0.497,0.842) {r = 0.27\\0.39x + 0.04};
\end{axis}
% ---------------- Panel 3 ----------------
\begin{axis}[panel, at={(1039pt,95pt)},
  title={LAFE {\serifit\itshape Ri}\textsubscript{\serifit\itshape b}},
  title style={at={(axis description cs:0.467,1.028)}, anchor=base, font=\fontsize{46}{55}\selectfont}]
\cellplots{\tabC}
\addplot[diag] coordinates {(-0.5,-0.5) (99.5,99.5)};
\node[statbox] at (rel axis cs:0.461,0.855) {r = 0.30\\0.39x + 0.03};
\end{axis}
\end{tikzpicture}
\end{document}
